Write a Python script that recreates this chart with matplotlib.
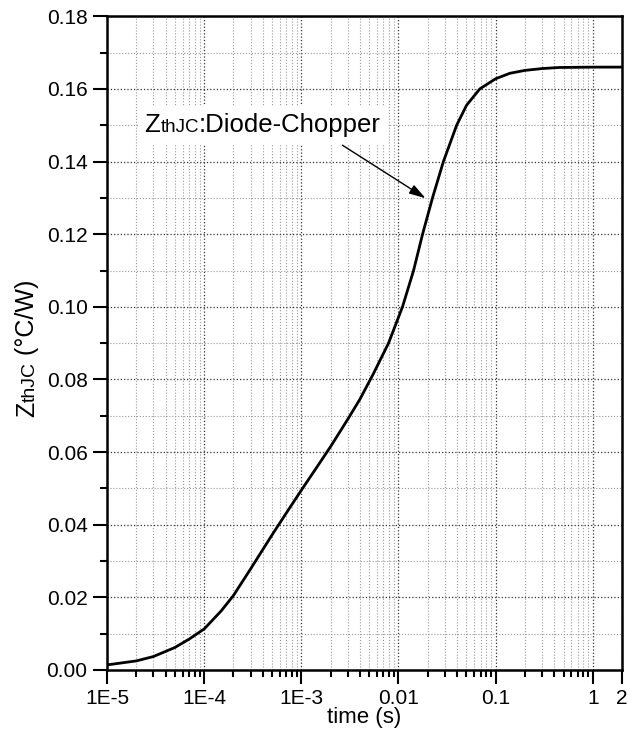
import matplotlib
matplotlib.use("Agg")
import matplotlib.pyplot as plt
from matplotlib.ticker import FixedLocator, NullFormatter
from matplotlib.offsetbox import TextArea, HPacker, AnnotationBbox

plt.rcParams['font.family'] = ['Liberation Sans', 'DejaVu Sans']

# thermal impedance
time_s = [1e-5, 2e-5, 3e-5, 5e-5, 7e-5, 1e-4, 1.5e-4, 2e-4, 3e-4, 5e-4, 7e-4, 1e-3,
          1.5e-3, 2e-3, 3e-3, 4e-3, 5.5e-3, 7.9e-3, 1.1e-2, 1.43e-2, 1.77e-2,
          2.24e-2, 2.9e-2, 3.97e-2, 5.02e-2, 6.87e-2, 0.1, 0.14, 0.2, 0.3, 0.45, 1.0, 2.0]
zth = [0.0014, 0.0025, 0.0037, 0.0062, 0.0085, 0.0113, 0.0163, 0.0205, 0.0278, 0.0372, 0.0432, 0.0495,
       0.0565, 0.0615, 0.0690, 0.0745, 0.0815, 0.0900, 0.1000, 0.1100, 0.1200,
       0.1300, 0.1400, 0.1500, 0.1555, 0.1600, 0.1628, 0.1643, 0.1651, 0.1656, 0.1659, 0.1660, 0.1660]

x_ticks = [1e-5, 1e-4, 1e-3, 1e-2, 1e-1, 1, 2]
x_labels = ["1E-5", "1E-4", "1E-3", "0.01", "0.1", "1", "2"]
y_ticks = [0.00, 0.02, 0.04, 0.06, 0.08, 0.10, 0.12, 0.14, 0.16, 0.18]

fig = plt.figure(figsize=(6.37, 7.40), dpi=100)
ax = fig.add_axes([0.168, 0.0946, 0.8085, 0.8834])

ax.plot(time_s, zth, color='black', lw=2, zorder=3, solid_joinstyle='round')

ax.set_xscale('log')
ax.set_xlim(1e-5, 2)
ax.set_ylim(0, 0.18)

ax.xaxis.set_major_locator(FixedLocator(x_ticks))
ax.set_xticklabels(x_labels)
minor_x = [m * 10.0 ** e for e in range(-5, 0) for m in range(2, 10)]
ax.xaxis.set_minor_locator(FixedLocator(minor_x))
ax.xaxis.set_minor_formatter(NullFormatter())

ax.yaxis.set_major_locator(FixedLocator(y_ticks))
ax.set_yticklabels(["%.2f" % v for v in y_ticks])
ax.yaxis.set_minor_locator(FixedLocator([v + 0.01 for v in y_ticks[:-1]]))

ax.tick_params(which='major', direction='out', length=10, width=1.5, labelsize=15, pad=4)
ax.tick_params(which='minor', direction='out', length=5, width=1.5)
for side in ['left', 'bottom', 'right', 'top']:
    ax.spines[side].set_linewidth(1.8)

ax.grid(which='major', linestyle=':', color='#333333', lw=0.9)
ax.grid(which='minor', linestyle=':', color='#999999', lw=0.8)
ax.set_axisbelow(True)

ax.set_xlabel("time (s)", fontsize=16, labelpad=-1)

# y label: Z with smaller "thJC"
t1 = ax.text(-0.155, 0.387, "Z", fontsize=18, rotation=90, ha='center', va='bottom',
             transform=ax.transAxes)
t2 = ax.annotate("thJC", xy=(1, 1), xycoords=t1, fontsize=14, rotation=90,
                 ha='right', va='bottom')
ax.annotate(" (\u00b0C/W)", xy=(1, 1), xycoords=t2, fontsize=18, rotation=90,
            ha='right', va='bottom')

# annotation label
label = HPacker(children=[TextArea("Z", textprops=dict(fontsize=18.5)),
                          TextArea("thJC", textprops=dict(fontsize=13.5)),
                          TextArea(":Diode-Chopper", textprops=dict(fontsize=18.5))],
                align='baseline', pad=0, sep=0)
ab = AnnotationBbox(label, (4.0e-4, 0.1501), xycoords='data', box_alignment=(0.5, 0.5),
                    frameon=True, pad=0.5,
                    bboxprops=dict(facecolor='white', edgecolor='none'))
ab.set_zorder(2)
ax.add_artist(ab)

ax.annotate("", xy=(1.9e-2, 0.1299), xytext=(2.65e-3, 0.1445),
            arrowprops=dict(arrowstyle='-|>,head_length=1.0,head_width=0.3',
                            color='black', lw=1, shrinkA=0, shrinkB=0), zorder=4)

fig.savefig("out.png", dpi=100)
